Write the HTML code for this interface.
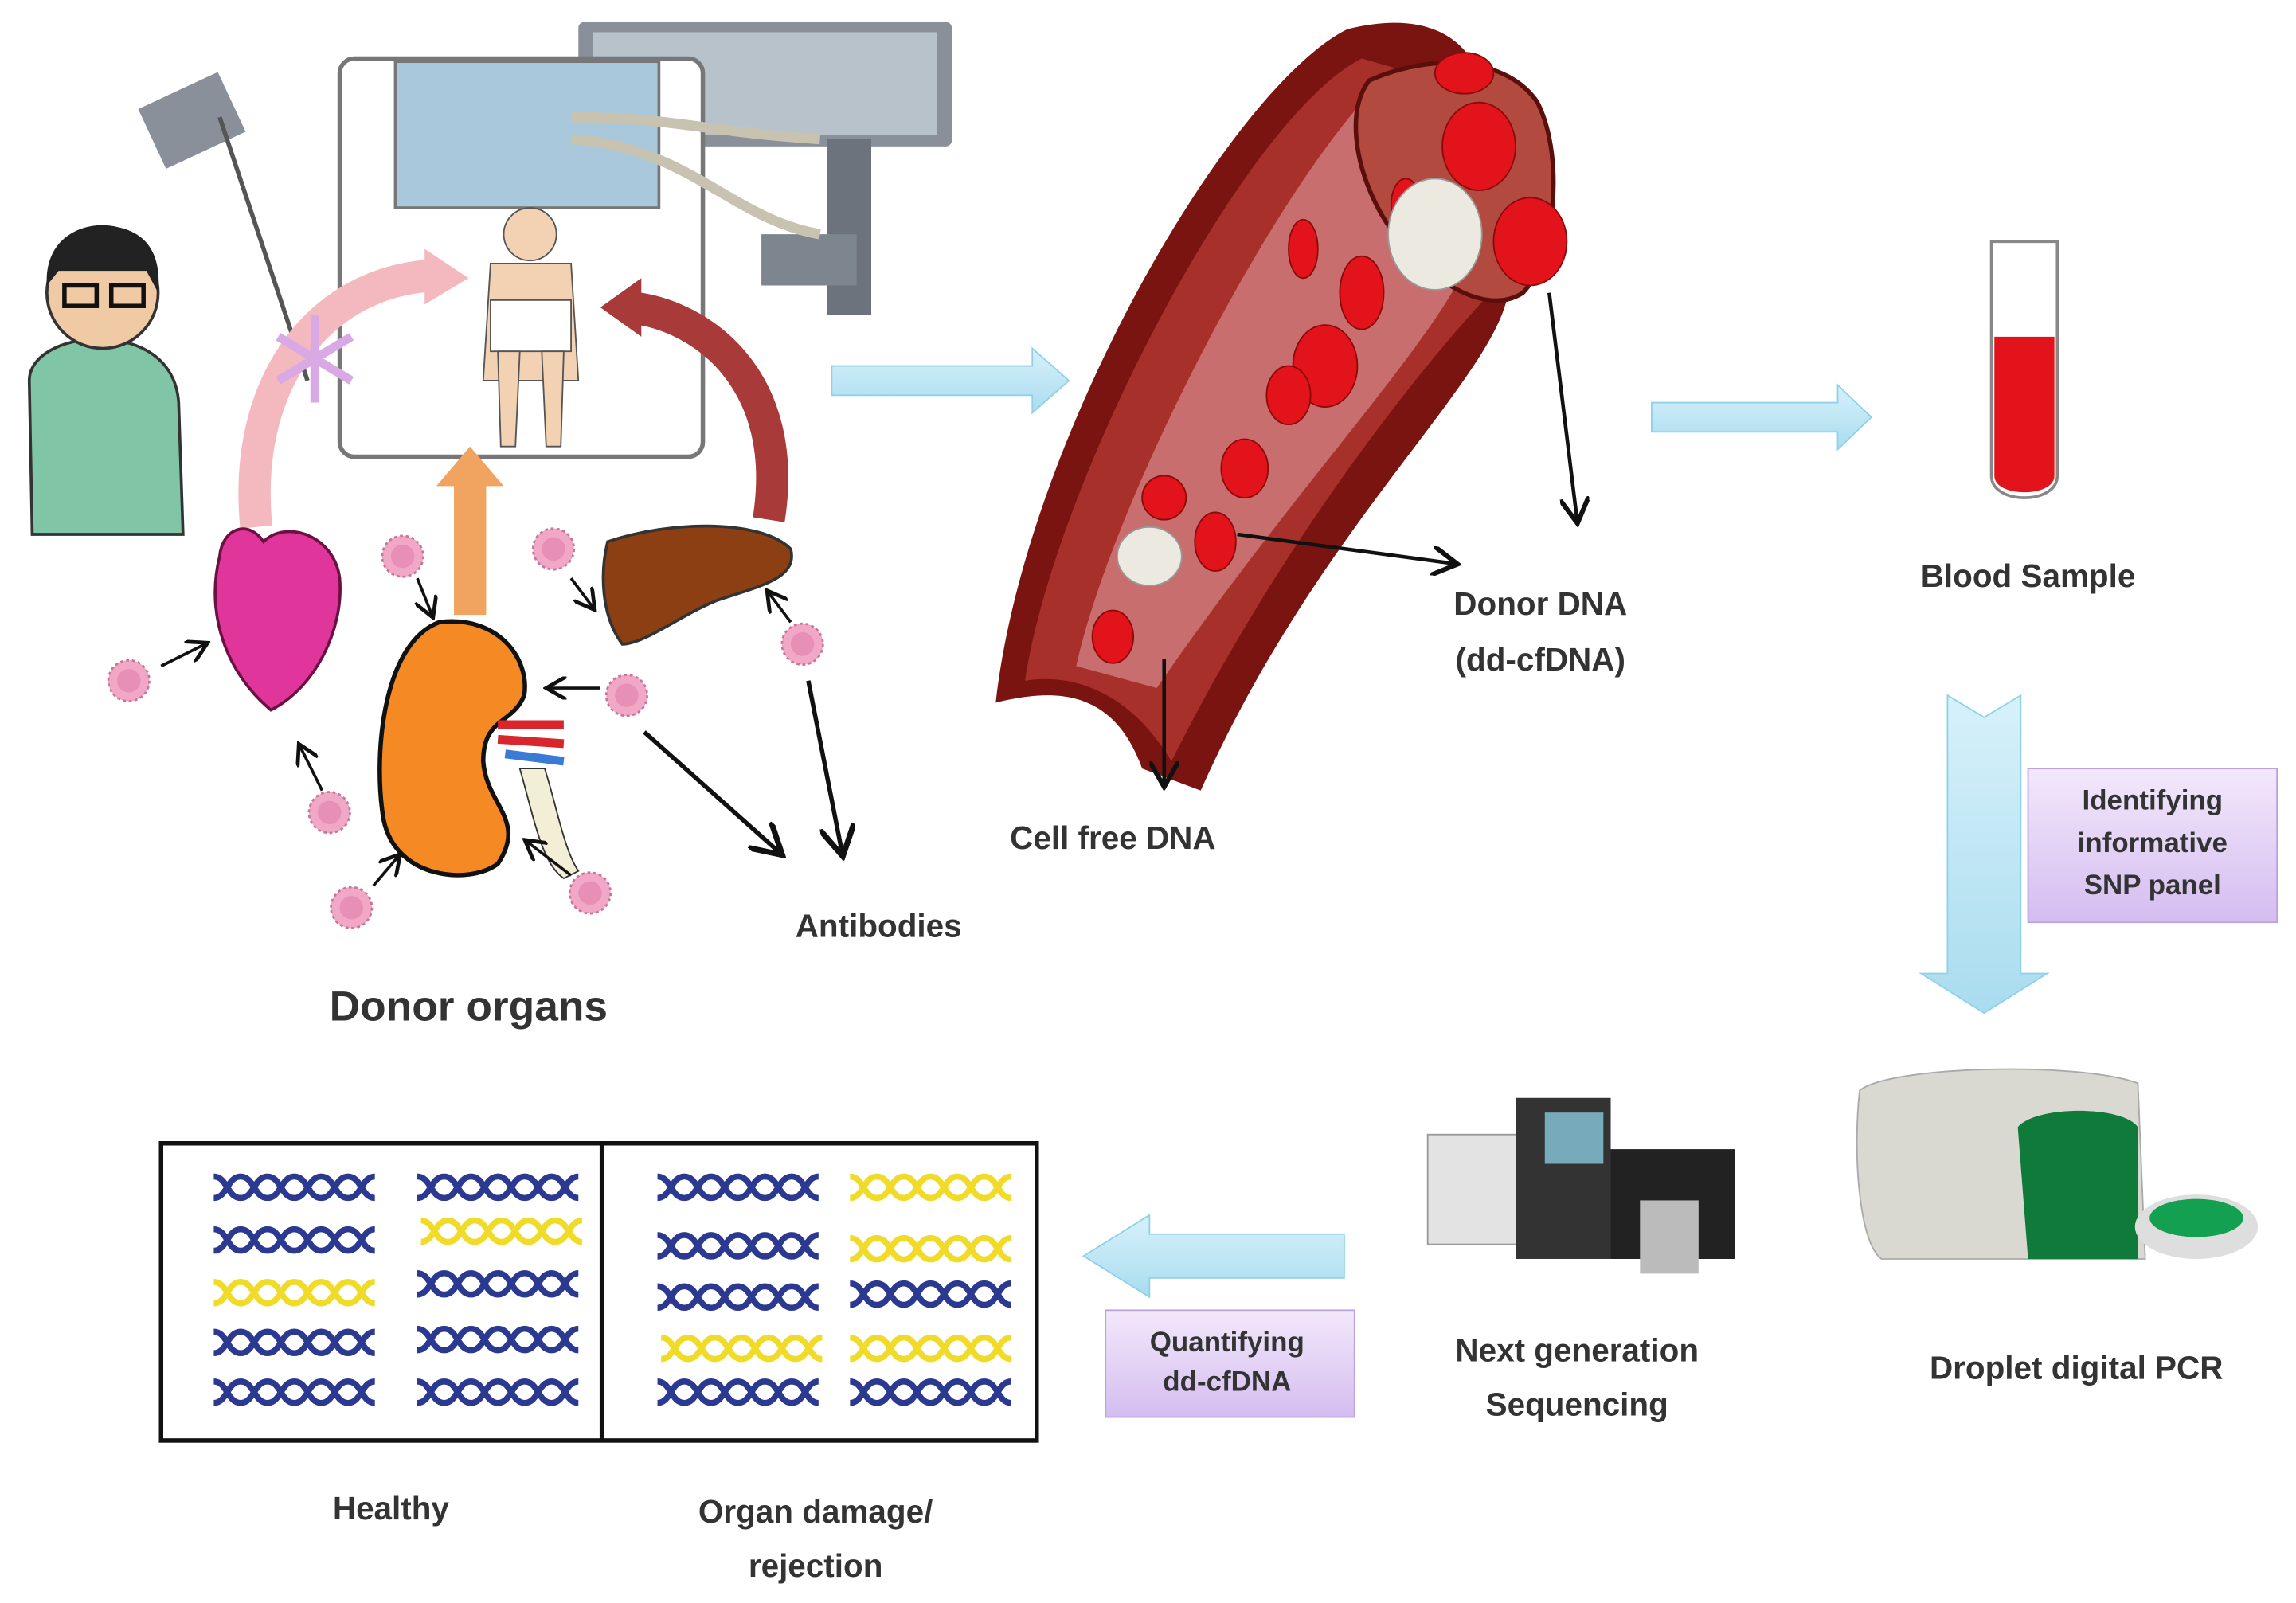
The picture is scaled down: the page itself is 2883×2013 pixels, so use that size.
<!DOCTYPE html>
<html><head><meta charset="utf-8"><style>
html,body{margin:0;padding:0;background:#fff}
svg{display:block}
text{font-family:"Liberation Sans",sans-serif;font-weight:bold;fill:#333}
</style></head><body>
<svg width="2883" height="2013" viewBox="0 0 1568 1095" preserveAspectRatio="none" xmlns="http://www.w3.org/2000/svg">
<defs>
<marker id="ah" markerWidth="8" markerHeight="8" refX="6" refY="4" orient="auto" markerUnits="strokeWidth"><path d="M0,0 L7,4 L0,8" fill="none" stroke="#111" stroke-width="1.3"/></marker>
<symbol id="hx" viewBox="0 0 120 24" overflow="visible">
<path d="M0,4 C10,4 10,20 20,20 C30,20 30,4 40,4 C50,4 50,20 60,20 C70,20 70,4 80,4 C90,4 90,20 100,20 C110,20 110,4 120,4" fill="none" stroke="currentColor" stroke-width="4.5"/>
<path d="M0,20 C10,20 10,4 20,4 C30,4 30,20 40,20 C50,20 50,4 60,4 C70,4 70,20 80,20 C90,20 90,4 100,4 C110,4 110,20 120,20" fill="none" stroke="currentColor" stroke-width="4.5"/>
</symbol>
<g id="cell"><circle r="14" fill="#f1a7c6" stroke="#c9749a" stroke-width="1.5" stroke-dasharray="2 2"/><circle r="8" fill="#e78fb4"/></g>
<linearGradient id="lb" x1="0" y1="0" x2="0" y2="1"><stop offset="0" stop-color="#d7f1fa"/><stop offset="1" stop-color="#a9dcef"/></linearGradient>
<linearGradient id="pb" x1="0" y1="0" x2="0" y2="1"><stop offset="0" stop-color="#f3e8fb"/><stop offset="1" stop-color="#d4bdf0"/></linearGradient>
</defs>

<!-- monitor -->
<rect x="395" y="15" width="255" height="85" fill="#8a9099" rx="4"/>
<rect x="405" y="22" width="235" height="70" fill="#b7c2cb"/>
<rect x="565" y="95" width="30" height="120" fill="#6c737c"/>
<rect x="520" y="160" width="65" height="35" fill="#7d858e"/>
<rect x="100" y="60" width="60" height="45" fill="#8a9099" transform="rotate(-25 130 80)"/>
<line x1="150" y1="80" x2="210" y2="260" stroke="#555" stroke-width="3"/>
<!-- bed -->
<rect x="232" y="40" width="248" height="272" fill="#fff" stroke="#777" stroke-width="3" rx="10"/>
<rect x="270" y="42" width="180" height="100" fill="#a9c8dc" stroke="#777" stroke-width="2"/>
<path d="M390,80 C460,80 480,90 560,95 M390,95 C470,100 500,150 560,160" stroke="#c8c3b0" stroke-width="7" fill="none"/>
<!-- patient -->
<circle cx="362" cy="160" r="18" fill="#f3d1b3" stroke="#555"/>
<path d="M335,180 L390,180 L395,260 L330,260 Z" fill="#f3d1b3" stroke="#555"/>
<rect x="335" y="205" width="55" height="35" fill="#fff" stroke="#555"/>
<path d="M340,240 L355,240 L352,305 L342,305 Z M370,240 L385,240 L383,305 L373,305 Z" fill="#f3d1b3" stroke="#555"/>
<!-- doctor -->
<path d="M20,260 C20,240 50,230 70,232 C95,232 120,245 122,275 L125,365 L22,365 Z" fill="#7fc5a6" stroke="#333" stroke-width="2"/>
<circle cx="70" cy="200" r="38" fill="#f0c9a5" stroke="#333" stroke-width="2"/>
<path d="M32,195 C30,160 60,150 80,155 C105,160 110,180 108,200 L100,185 L40,185 Z" fill="#222"/>
<rect x="44" y="195" width="22" height="14" fill="none" stroke="#111" stroke-width="3"/>
<rect x="76" y="195" width="22" height="14" fill="none" stroke="#111" stroke-width="3"/>
<!-- organ arrows -->
<path d="M175,360 C165,260 220,190 300,188" fill="none" stroke="#f3b9bf" stroke-width="22"/>
<path d="M290,170 L320,190 L290,208 Z" fill="#f3b9bf"/>
<path d="M525,355 C540,260 480,215 430,210" fill="none" stroke="#a83a3a" stroke-width="22"/>
<path d="M438,190 L410,210 L438,230 Z" fill="#a83a3a"/>
<rect x="310" y="330" width="22" height="90" fill="#f0a460"/>
<path d="M298,332 L321,305 L344,332 Z" fill="#f0a460"/>
<!-- snowflake -->
<path d="M215,215 L215,275 M190,230 L240,260 M190,260 L240,230" stroke="#d9a9e6" stroke-width="6"/>
<!-- heart -->
<path d="M150,380 C140,420 155,460 185,485 C215,470 235,430 232,395 C228,365 195,355 180,370 C170,355 152,360 150,380 Z" fill="#e0359a" stroke="#6b1040" stroke-width="2"/>
<!-- kidney -->
<path d="M300,425 C340,420 362,450 358,475 C350,495 330,490 330,520 C332,550 360,560 340,590 C320,605 270,600 262,560 C255,520 260,440 300,425 Z" fill="#f58a25" stroke="#111" stroke-width="3"/>
<path d="M340,495 L385,495 M340,505 L385,508" stroke="#d8262c" stroke-width="6"/>
<path d="M345,515 L385,520" stroke="#3a7bd5" stroke-width="6"/>
<path d="M355,525 C365,560 370,590 385,600 L395,595 C385,580 380,550 372,525 Z" fill="#f3efd6" stroke="#333"/>
<!-- liver -->
<path d="M415,370 C460,355 520,355 540,375 C545,395 520,400 490,410 C465,420 440,440 425,440 C410,420 410,390 415,370 Z" fill="#8b3f12" stroke="#333" stroke-width="2"/>
<!-- cells -->
<use href="#cell" x="88" y="465"/><use href="#cell" x="275" y="380"/><use href="#cell" x="378" y="375"/>
<use href="#cell" x="428" y="475"/><use href="#cell" x="548" y="440"/><use href="#cell" x="225" y="555"/>
<use href="#cell" x="240" y="620"/><use href="#cell" x="403" y="610"/>
<g stroke="#111" stroke-width="2" marker-end="url(#ah)">
<line x1="110" y1="455" x2="140" y2="440"/><line x1="285" y1="395" x2="295" y2="420"/>
<line x1="410" y1="470" x2="375" y2="470"/><line x1="390" y1="395" x2="405" y2="415"/>
<line x1="540" y1="425" x2="525" y2="405"/><line x1="220" y1="540" x2="205" y2="510"/>
<line x1="255" y1="605" x2="272" y2="585"/><line x1="390" y1="598" x2="360" y2="575"/>
<line x1="440" y1="500" x2="532" y2="582" stroke-width="3"/><line x1="552" y1="465" x2="575" y2="582" stroke-width="3"/>
</g>
<text x="320" y="697" font-size="29" text-anchor="middle">Donor organs</text>
<text x="600" y="640" font-size="22" text-anchor="middle">Antibodies</text>

<!-- light blue arrows -->
<path d="M568,250 L705,250 L705,238 L730,260 L705,282 L705,270 L568,270 Z" fill="url(#lb)" stroke="#8fd1ea"/>
<path d="M1128,275 L1255,275 L1255,263 L1278,285 L1255,307 L1255,295 L1128,295 Z" fill="url(#lb)" stroke="#8fd1ea"/>
<path d="M1330,475 L1355,490 L1380,475 L1380,665 L1398,665 L1355,692 L1312,665 L1330,665 Z" fill="url(#lb)" stroke="#8fd1ea"/>
<path d="M918,843 L785,843 L785,830 L740,858 L785,886 L785,873 L918,873 Z" fill="url(#lb)" stroke="#8fd1ea"/>

<!-- vessel -->
<path d="M680,480 C700,300 840,60 920,20 C980,5 1010,30 1015,70 L1030,200 C1020,260 900,360 820,540 L780,525 C760,470 720,470 680,480 Z" fill="#7a1410"/>
<path d="M700,465 C720,330 850,80 930,40 L1000,60 L1018,200 C980,240 880,360 800,520 C770,470 730,460 700,465 Z" fill="#a8302a"/>
<path d="M735,455 C760,340 880,110 950,50 C990,40 1010,70 1012,150 C1005,210 900,310 790,470 Z" fill="#c96e6e"/>
<path d="M935,55 C980,35 1030,40 1050,70 C1070,110 1060,180 1040,200 C1010,220 960,180 940,140 C925,110 920,75 935,55 Z" fill="#b24a40" stroke="#5a0f0a" stroke-width="3"/>
<g fill="#e3131b" stroke="#8a0a0a">
<ellipse cx="1010" cy="100" rx="25" ry="30"/><ellipse cx="1045" cy="165" rx="25" ry="30"/><ellipse cx="1000" cy="50" rx="20" ry="14"/>
<ellipse cx="905" cy="250" rx="22" ry="28"/><ellipse cx="930" cy="200" rx="15" ry="25"/><ellipse cx="880" cy="270" rx="15" ry="20"/>
<ellipse cx="850" cy="320" rx="16" ry="20"/><ellipse cx="830" cy="370" rx="14" ry="20"/><ellipse cx="795" cy="340" rx="15" ry="15"/>
<ellipse cx="760" cy="435" rx="14" ry="18"/><ellipse cx="890" cy="170" rx="10" ry="20"/><ellipse cx="960" cy="140" rx="10" ry="18"/>
</g>
<ellipse cx="980" cy="160" rx="32" ry="38" fill="#eceae0" stroke="#999"/>
<ellipse cx="785" cy="380" rx="22" ry="20" fill="#eceae0" stroke="#999"/>
<g stroke="#111" stroke-width="2.5" marker-end="url(#ah)">
<line x1="1058" y1="200" x2="1077" y2="355"/>
<line x1="845" y1="365" x2="993" y2="385"/>
<line x1="795" y1="450" x2="795" y2="535"/>
</g>
<text x="1052" y="420" font-size="22" text-anchor="middle">Donor DNA</text>
<text x="1052" y="458" font-size="22" text-anchor="middle">(dd-cfDNA)</text>
<text x="760" y="580" font-size="22" text-anchor="middle">Cell free DNA</text>

<!-- test tube -->
<path d="M1360,165 L1405,165 L1405,325 C1405,345 1360,345 1360,325 Z" fill="#fff" stroke="#888" stroke-width="2"/>
<path d="M1362,230 L1403,230 L1403,325 C1403,340 1362,340 1362,325 Z" fill="#e3131b"/>
<text x="1385" y="401" font-size="22" text-anchor="middle">Blood Sample</text>

<rect x="1385" y="525" width="170" height="105" fill="url(#pb)" stroke="#bca3df"/>
<text x="1470" y="553" font-size="19" text-anchor="middle">Identifying</text>
<text x="1470" y="582" font-size="19" text-anchor="middle">informative</text>
<text x="1470" y="611" font-size="19" text-anchor="middle">SNP panel</text>

<!-- ddPCR -->
<path d="M1270,745 C1290,728 1420,725 1460,740 L1465,860 L1285,860 C1270,850 1265,790 1270,745 Z" fill="#d9d9d2" stroke="#aaa"/>
<path d="M1378,770 C1390,755 1450,755 1460,770 L1460,860 L1385,860 Z" fill="#0f7a3a"/>
<ellipse cx="1500" cy="838" rx="42" ry="22" fill="#dedede"/>
<ellipse cx="1500" cy="832" rx="32" ry="13" fill="#13a050"/>
<text x="1418" y="942" font-size="22" text-anchor="middle">Droplet digital PCR</text>

<!-- NGS -->
<rect x="975" y="775" width="85" height="75" fill="#e3e3e3" stroke="#999"/>
<rect x="1035" y="750" width="65" height="110" fill="#333"/>
<rect x="1055" y="760" width="40" height="35" fill="#7ab"/>
<rect x="1100" y="785" width="85" height="75" fill="#222"/>
<rect x="1120" y="820" width="40" height="50" fill="#bbb"/>
<text x="1077" y="930" font-size="22" text-anchor="middle">Next generation</text>
<text x="1077" y="967" font-size="22" text-anchor="middle">Sequencing</text>

<rect x="755" y="895" width="170" height="73" fill="url(#pb)" stroke="#bca3df"/>
<text x="838" y="923" font-size="19" text-anchor="middle">Quantifying</text>
<text x="838" y="950" font-size="19" text-anchor="middle">dd-cfDNA</text>

<!-- result box -->
<rect x="110" y="781" width="598" height="203" fill="#fff" stroke="#111" stroke-width="3"/>
<line x1="411" y1="781" x2="411" y2="984" stroke="#111" stroke-width="3"/>
<g>
<use href="#hx" x="140" y="800" width="122" height="22" color="#2b3990"/>
<use href="#hx" x="140" y="836" width="122" height="22" color="#2b3990"/>
<use href="#hx" x="140" y="872" width="122" height="22" color="#f0dc28"/>
<use href="#hx" x="140" y="906" width="122" height="22" color="#2b3990"/>
<use href="#hx" x="140" y="940" width="122" height="22" color="#2b3990"/>
<use href="#hx" x="280" y="800" width="120" height="22" color="#2b3990"/>
<use href="#hx" x="285" y="830" width="115" height="22" color="#f0dc28"/>
<use href="#hx" x="280" y="866" width="120" height="22" color="#2b3990"/>
<use href="#hx" x="280" y="904" width="120" height="22" color="#2b3990"/>
<use href="#hx" x="280" y="940" width="120" height="22" color="#2b3990"/>
<use href="#hx" x="445" y="800" width="118" height="22" color="#2b3990"/>
<use href="#hx" x="445" y="840" width="118" height="22" color="#2b3990"/>
<use href="#hx" x="445" y="875" width="118" height="22" color="#2b3990"/>
<use href="#hx" x="450" y="910" width="113" height="22" color="#f0dc28"/>
<use href="#hx" x="445" y="940" width="118" height="22" color="#2b3990"/>
<use href="#hx" x="578" y="800" width="115" height="22" color="#f0dc28"/>
<use href="#hx" x="578" y="842" width="115" height="22" color="#f0dc28"/>
<use href="#hx" x="578" y="873" width="115" height="22" color="#2b3990"/>
<use href="#hx" x="578" y="910" width="115" height="22" color="#f0dc28"/>
<use href="#hx" x="578" y="940" width="115" height="22" color="#2b3990"/>
</g>
<text x="267" y="1038" font-size="22" text-anchor="middle">Healthy</text>
<text x="557" y="1040" font-size="22" text-anchor="middle">Organ damage/</text>
<text x="557" y="1077" font-size="22" text-anchor="middle">rejection</text>
</svg>
</body></html>
